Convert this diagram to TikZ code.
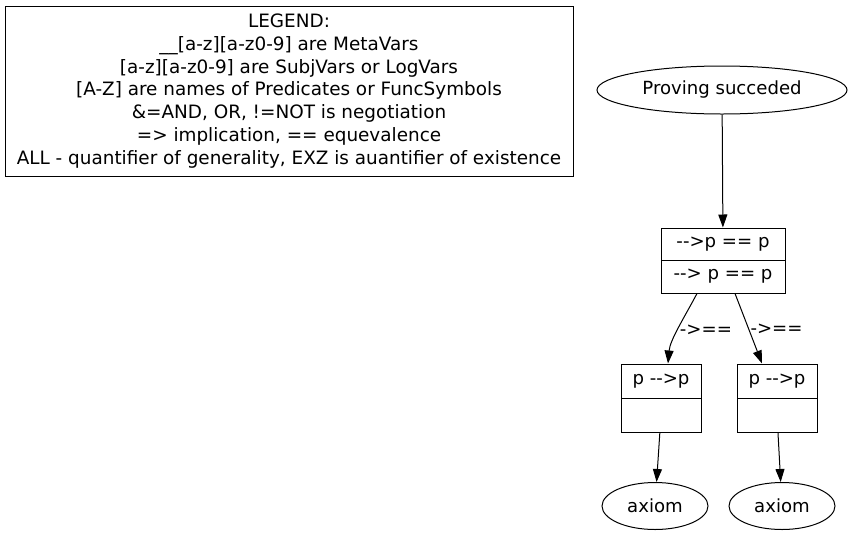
\documentclass[tikz,border=0pt]{standalone}
\usepackage{fontspec}
\setmainfont{DejaVu Sans}[Ligatures=TeXOff]
\usetikzlibrary{arrows.meta}
\usetikzlibrary{shapes.geometric}
\usetikzlibrary{positioning}

\begin{document}
\begin{tikzpicture}[
              x = 1pt, y = -1pt, % pixel-like units
              > = {Triangle[length=13pt,width=9pt]}, % arrow head style
            line width = 1pt,
            font = \fontsize{18.1}{22}\selectfont
        ]

        \tikzstyle{oval}=[
            draw,
            ellipse,
            inner sep = 0pt
        ]
        \tikzstyle{field}=[
            draw,
            rectangle,
            inner sep = 0pt
        ]
        \tikzstyle{lbl}=[
            inner sep = 0pt
        ]

        \useasboundingbox (0,0) rectangle (853,536);

	% legend
        \node[draw, minimum width=568pt, minimum height=170pt, align=center,
              font=\fontsize{18.4}{22.7}\selectfont] (legend) at (289,91)
              {LEGEND:\\
               \_\_[a-z][a-z0-9] are MetaVars\\{}%
               [a-z][a-z0-9] are SubjVars or LogVars\\{}%
               [A-Z] are names of Predicates or FuncSymbols\\
               \&=AND, OR, !=NOT is negotiation\\
               => implication, == equevalence\\
               ALL - quantifier of generality, EXZ is auantifier of existence};

	% root
        \node[oval, minimum width=250pt, minimum height=48pt] (PS) at (722,90) {Proving succeded};

        % first record
        \node[field, minimum width=124pt, minimum height=32pt] (T1) at (723,244) {-->p == p};
        \node[field, minimum width=124pt, minimum height=33pt] (T2) at (723,276.5) {--> p == p};

        \path[->] (PS) edge node {} (T1);

         % children
         \node[field, minimum width=80pt, minimum height=34pt] (L1) at (661,381) {p -->p};
         \node[field, minimum width=80pt, minimum height=34pt] (L2) at (661,415) {};
         \node[field, minimum width=80pt, minimum height=34pt] (R1) at (777,381) {p -->p};
         \node[field, minimum width=80pt, minimum height=34pt] (R2) at (777,415) {};

         \draw[->] ([xshift=-26pt]T2.south) .. controls (684,318) and (670,340) .. ([xshift=7pt]L1.north)
             node[lbl, pos=0.5, right, xshift=1pt, yshift=-1pt] {->==};
         \draw[->] ([xshift=12pt]T2.south) -- ([xshift=-15pt]R1.north)
             node[lbl, pos=0.5, right, xshift=1.5pt, yshift=-1pt] {->==};

         % leaves
         \node[oval, minimum width=106pt, minimum height=47pt] (LA) at (655,506) {axiom};
         \node[oval, minimum width=106pt, minimum height=47pt] (RA) at (782,506) {axiom};

         \path[->] (L2) edge node {} (LA);
         \path[->] (R2) edge node {} (RA);

  \end{tikzpicture}
\end{document}
